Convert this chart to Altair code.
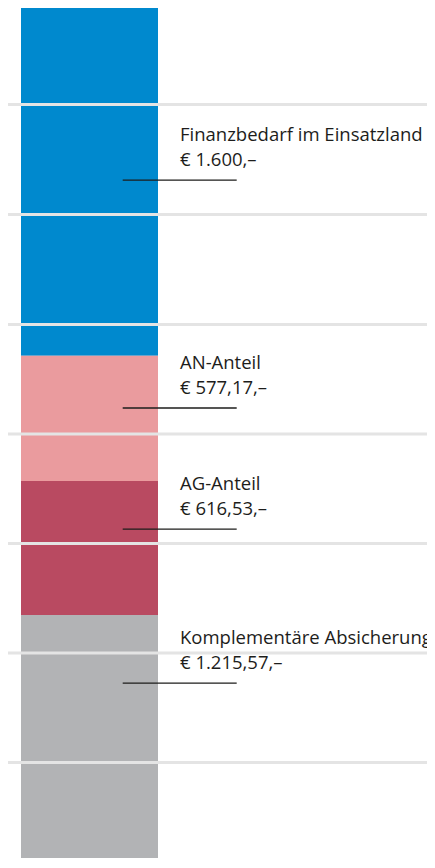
import altair as alt
import pandas as pd

# Segments of the single stacked bar (top to bottom)
categories = ["Finanzbedarf im Einsatzland", "AN-Anteil", "AG-Anteil", "Komplementäre Absicherung"]
values = [1600.00, 577.17, 616.53, 1215.57]
value_labels = ["€ 1.600,–", "€ 577,17,–", "€ 616,53,–", "€ 1.215,57,–"]
colors = ["#0089ce", "#ea9b9e", "#b94a61", "#b2b3b5"]

# Label anchor values (in € units along the bar)
label_anchor = [792, 1841, 2398, 3107]

# Horizontal rule positions (in € units)
grid_values = [444, 950, 1457, 1961, 2465, 2969, 3473]

cum_end = pd.Series(values).cumsum()
seg = pd.DataFrame({
    "name": categories,
    "start": cum_end - pd.Series(values),
    "end": cum_end,
})
lab = pd.DataFrame({"name": categories, "pos": label_anchor, "vlabel": value_labels})
grid = pd.DataFrame({"g": grid_values})

yscale = alt.Scale(domain=[0, 3912], reverse=True, nice=False, zero=False)
FONT = "Open Sans"
TXT = "#1d1d1b"
W, H = 419, 850

bars = alt.Chart(seg).mark_rect().encode(
    x=alt.value(13), x2=alt.value(150),
    y=alt.Y("start:Q", scale=yscale, axis=None),
    y2="end:Q",
    color=alt.Color("name:N", scale=alt.Scale(domain=categories, range=colors), legend=None),
)

grid_rules = alt.Chart(grid).mark_rule(color="#e4e4e4", strokeWidth=3).encode(
    x=alt.value(0), x2=alt.value(W),
    y=alt.Y("g:Q", scale=yscale, axis=None),
)

leaders = alt.Chart(lab).mark_rule(color=TXT, strokeWidth=1.3).encode(
    x=alt.value(114.7), x2=alt.value(228.7),
    y=alt.Y("pos:Q", scale=yscale, axis=None),
)

names = alt.Chart(lab).mark_text(
    align="left", baseline="alphabetic", dy=-39, font=FONT, fontSize=18.5, color=TXT
).encode(
    x=alt.value(172),
    y=alt.Y("pos:Q", scale=yscale, axis=None),
    text="name:N",
)

amounts = alt.Chart(lab).mark_text(
    align="left", baseline="alphabetic", dy=-14.5, font=FONT, fontSize=18.5, color=TXT
).encode(
    x=alt.value(172),
    y=alt.Y("pos:Q", scale=yscale, axis=None),
    text="vlabel:N",
)

chart = alt.layer(bars, grid_rules, leaders, names, amounts).properties(
    width=W, height=H, padding=0, autosize="none"
).configure_view(stroke=None)

chart.save("out.html", embed_options={"renderer": "svg", "actions": False})
